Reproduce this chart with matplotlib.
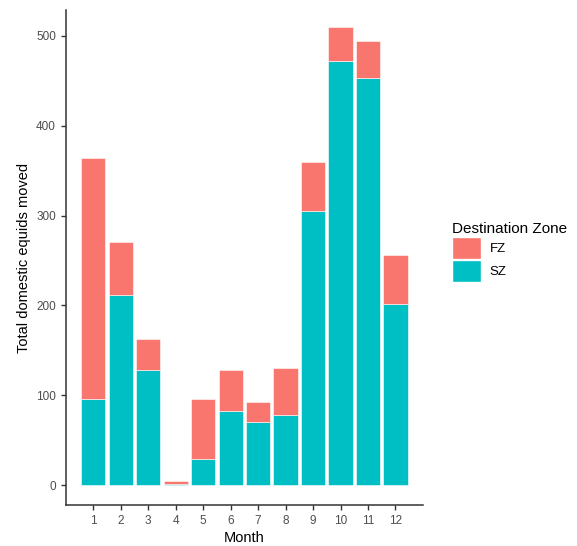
import numpy as np
import matplotlib.pyplot as plt
from matplotlib.patches import Patch

plt.rcParams['font.family'] = ['Liberation Sans', 'DejaVu Sans']

# Data
months = [1, 2, 3, 4, 5, 6, 7, 8, 9, 10, 11, 12]
sz = [96, 212, 128, 1, 29, 82, 70, 78, 305, 472, 453, 202]
fz = [268, 59, 34, 4, 67, 46, 22, 52, 55, 38, 41, 54]

c_fz = "#F8766D"
c_sz = "#00BFC4"

fig = plt.figure(figsize=(5.77, 5.46), dpi=100)
ax = fig.add_axes([0.114, 0.075, 0.619, 0.907])

x = np.array(months)
ax.bar(x, sz, width=0.88, color=c_sz, edgecolor="white", linewidth=0.4)
ax.bar(x, fz, width=0.88, bottom=sz, color=c_fz, edgecolor="white", linewidth=0.4)

ax.set_xlim(0.0, 13.0)
ax.set_ylim(-22.3, 529)
ax.set_xticks(months)
ax.set_xticklabels([str(m) for m in months])
ax.set_yticks([0, 100, 200, 300, 400, 500])

for s in ["top", "right"]:
    ax.spines[s].set_visible(False)
for s in ["left", "bottom"]:
    ax.spines[s].set_color("#333333")
    ax.spines[s].set_linewidth(1.1)
ax.tick_params(colors="#333333", labelcolor="#4D4D4D", labelsize=8.5, length=3.5, width=1)

ax.set_xlabel("Month", fontsize=10.5, color="black", labelpad=3)
ax.set_ylabel("Total domestic equids moved", fontsize=10.5, color="black", labelpad=4)

handles = [Patch(facecolor=c_fz, edgecolor="white"), Patch(facecolor=c_sz, edgecolor="white")]
leg = fig.legend(handles, ["FZ", "SZ"], title="Destination Zone", loc="upper left",
                 bbox_to_anchor=(0.762, 0.615), frameon=False, fontsize=9.5,
                 title_fontsize=11, handlelength=2.2, handleheight=2.2,
                 handletextpad=0.7, labelspacing=0.05, alignment="left")

fig.savefig("out.png", dpi=100)
